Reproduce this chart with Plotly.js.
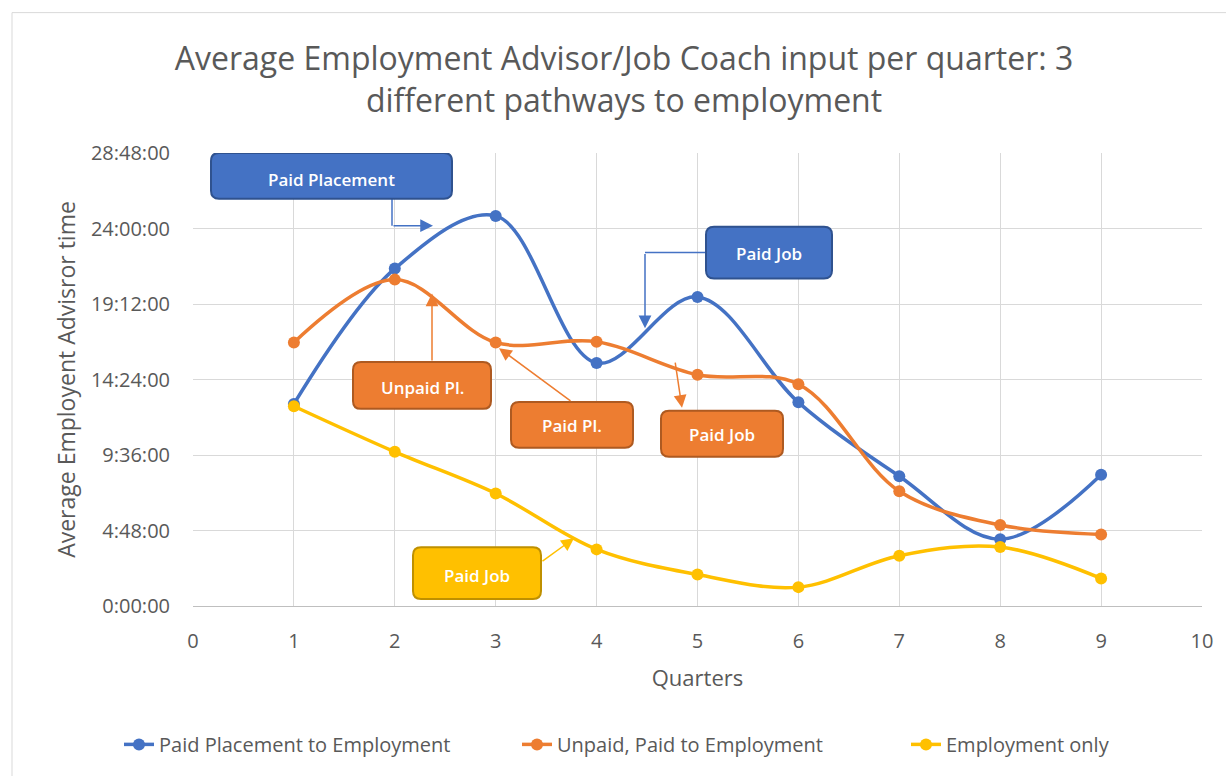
<!DOCTYPE html>
<html><head><meta charset="utf-8">
<script src="https://cdn.plot.ly/plotly-3.0.1.min.js"></script>
<style>html,body{margin:0;padding:0;background:#fff;}#chart{width:1226px;height:776px;}</style>
</head><body><div id="chart"></div>
<script>
// Data (hours)
const quarters = [1,2,3,4,5,6,7,8,9];
const paidPlacement = [12.85,21.45,24.8,15.45,19.65,12.95,8.25,4.25,8.35];
const unpaidPaid = [16.75,20.75,16.75,16.8,14.7,14.1,7.3,5.15,4.55];
const employmentOnly = [12.7,9.8,7.15,3.6,2.0,1.2,3.2,3.75,1.75];
const seriesNames = ["Paid Placement to Employment","Unpaid, Paid to Employment","Employment only"];
const yTickVals = [0,4.8,9.6,14.4,19.2,24,28.8];
const yTickText = ["0:00:00","4:48:00","9:36:00","14:24:00","19:12:00","24:00:00","28:48:00"];
const xTickVals = [0,1,2,3,4,5,6,7,8,9,10];

const BLUE="#4472C4", ORANGE="#ED7D31", YELLOW="#FFC000";
const L=193, R=1202, T=153, B=608;
const X = px => (px-L)/((R-L)/10);
const Y = py => (B-py)/((B-T)/28.8);
const PX = px => (px-L)/(R-L);
const PY = py => (B-py)/(B-T);

function roundBox(x0,y0,x1,y1,r,fill,line){
  const p = `M ${X(x0+r)},${Y(y0)} L ${X(x1-r)},${Y(y0)} Q ${X(x1)},${Y(y0)} ${X(x1)},${Y(y0+r)} L ${X(x1)},${Y(y1-r)} Q ${X(x1)},${Y(y1)} ${X(x1-r)},${Y(y1)} L ${X(x0+r)},${Y(y1)} Q ${X(x0)},${Y(y1)} ${X(x0)},${Y(y1-r)} L ${X(x0)},${Y(y0+r)} Q ${X(x0)},${Y(y0)} ${X(x0+r)},${Y(y0)} Z`;
  return {type:'path',xref:'x',yref:'y',path:p,fillcolor:fill,line:{color:line,width:2},layer:'above'};
}
function seg(x0,y0,x1,y1,c){return {type:'line',xref:'x',yref:'y',x0:X(x0),y0:Y(y0),x1:X(x1),y1:Y(y1),line:{color:c,width:1.5},layer:'above'};}
function arrow(fx,fy,tx,ty,c){return {x:X(tx),y:Y(ty),ax:X(fx),ay:Y(fy),axref:'x',ayref:'y',xref:'x',yref:'y',text:'',showarrow:true,arrowhead:2,arrowsize:1.7,arrowwidth:1.5,arrowcolor:c};}
function label(cx,cy,t){return {x:X(cx),y:Y(cy),xref:'x',yref:'y',text:t,showarrow:false,font:{family:'Open Sans',size:17,color:'#fff',weight:600}};}

const mk = (y,name,c,lg)=>({x:quarters,y:y,name:name,type:'scatter',mode:'lines+markers',legend:lg,
  line:{color:c,width:3.5,shape:'spline',smoothing:1},marker:{color:c,size:12},cliponaxis:false});

const traces=[mk(paidPlacement,seriesNames[0],BLUE,'legend'),mk(unpaidPaid,seriesNames[1],ORANGE,'legend2'),mk(employmentOnly,seriesNames[2],YELLOW,'legend3')];

const shapes=[
  {type:'rect',xref:'paper',yref:'paper',x0:PX(12),x1:PX(1240),y0:PY(12),y1:PY(790),line:{color:'#d9d9d9',width:1},fillcolor:'rgba(0,0,0,0)',layer:'below'},
  seg(392,199,392,226,BLUE),
  seg(706,253,645,253,BLUE),
  roundBox(211,153,452,199,8,BLUE,'#2F528F'),
  roundBox(706,227,832,279,8,BLUE,'#2F528F'),
  roundBox(353,363,491,410,8,ORANGE,'#AE5A21'),
  roundBox(511,403,633,449,8,ORANGE,'#AE5A21'),
  roundBox(661,412,783,458,8,ORANGE,'#AE5A21'),
  roundBox(413,549,541,601,8,YELLOW,'#BF9000')
];
const annotations=[
  arrow(392,226,433,226,BLUE),
  arrow(645,253,645,329,BLUE),
  arrow(432,363,432,294,ORANGE),
  arrow(572,403,499,349,ORANGE),
  arrow(675,362,682,409,ORANGE),
  arrow(541,564,574,540,YELLOW),
  label(331,180,'Paid Placement'),
  label(769,254,'Paid Job'),
  label(422,389,'Unpaid Pl.'),
  label(572,427,'Paid Pl.'),
  label(722,436,'Paid Job'),
  label(477,577,'Paid Job')
];
const lg = px => ({orientation:'h',x:PX(px),xanchor:'left',y:PY(747),yanchor:'middle',font:{size:20,color:'#595959'},bgcolor:'rgba(0,0,0,0)'});

const layout={
  width:1226,height:776,margin:{l:L,r:1226-R,t:T,b:776-B},
  paper_bgcolor:'#fff',plot_bgcolor:'#fff',
  font:{family:'Open Sans',color:'#595959'},
  title:{text:'Average Employment Advisor/Job Coach input per quarter: 3<br>different pathways to employment',
    font:{family:'Open Sans',size:32,color:'#595959'},x:0.509,xanchor:'center',y:1-70/776,yanchor:'middle'},
  xaxis:{range:[0,10],tickvals:xTickVals,showgrid:true,gridcolor:'#d9d9d9',gridwidth:1,zeroline:false,
    showline:true,linecolor:'#bfbfbf',ticks:'',ticklabelstandoff:17,tickfont:{size:20,color:'#595959'},
    title:{text:'Quarters',font:{size:22,color:'#595959'},standoff:17},fixedrange:true},
  yaxis:{range:[0,28.8],tickvals:yTickVals,ticktext:yTickText,showgrid:true,gridcolor:'#d9d9d9',gridwidth:1,
    zeroline:false,showline:false,ticks:'',ticklabelstandoff:22,tickfont:{size:20,color:'#595959'},
    title:{text:'Average Employent Advisror time',font:{size:23,color:'#595959'},standoff:8}},
  showlegend:true,
  legend:lg(119), legend2:lg(517), legend3:lg(906),
  shapes:shapes,annotations:annotations
};
Plotly.newPlot('chart',traces,layout,{displayModeBar:false,staticPlot:true});
</script></body></html>
